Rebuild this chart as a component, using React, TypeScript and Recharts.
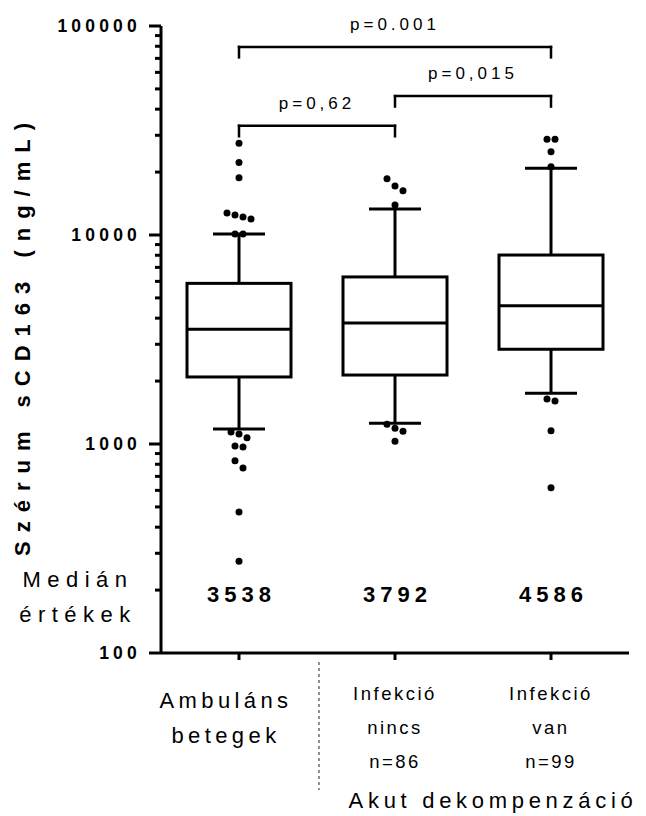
import { ComposedChart, Bar, Scatter, XAxis, YAxis, ReferenceLine } from 'recharts';

// groups on the x axis
const groups = ['Ambuláns betegek', 'Infekció nincs', 'Infekció van'];
const groupLabels = [
  ['Ambuláns', 'betegek'],
  ['Infekció', 'nincs', 'n=86'],
  ['Infekció', 'van', 'n=99'],
];

// box plot statistics, ng/mL
const medians = [3538, 3792, 4586];
const lowerQuartiles = [2093, 2138, 2840];
const upperQuartiles = [5870, 6300, 8020];
const whiskerLows = [1180, 1256, 1748];
const whiskerHighs = [10110, 13310, 20850];

// values outside the whiskers
const outliers = [
  [27500, 22200, 18800, 12740, 12470, 12190, 11930, 10100, 10100, 1140, 1117, 1072, 978, 968, 832, 767, 473, 275],
  [18600, 17150, 16300, 13920, 1242, 1189, 1150, 1030],
  [28700, 28700, 25000, 21200, 1641, 1606, 1158, 618],
];

const comparisons = [
  { from: 0, to: 2, text: 'p=0.001' },
  { from: 1, to: 2, text: 'p=0,015' },
  { from: 0, to: 1, text: 'p=0,62' },
];

const yTicks = [100, 1000, 10000, 100000];

const FONT = '"Liberation Sans", Arial, sans-serif';
const BOX_W = 104;
const CAP_W = 52;
const LINE = 3;
const DOT_R = 3.5;
const DOT_STEP = 8; // px between dots placed side by side
const DOT_GAP = 0.037; // decades; dots closer than this are placed side by side
const BRACKET_LEVELS = [79400, 46200, 33300];
const BRACKET_DROP = 0.05; // decades

const minorTicks = yTicks.slice(0, -1).flatMap((d) => [2, 3, 4, 5, 6, 7, 8, 9].map((m) => m * d));
const allTicks = [...yTicks, ...minorTicks].sort((a, b) => a - b);

// group close values and spread each group sideways around the centre
function spread(values: number[]) {
  const sorted = [...values].sort((a, b) => b - a);
  const clusters: number[][] = [];
  for (const v of sorted) {
    const last = clusters[clusters.length - 1];
    if (last && Math.log10(last[last.length - 1]) - Math.log10(v) < DOT_GAP) last.push(v);
    else clusters.push([v]);
  }
  return clusters.flatMap((c) => c.map((v, i) => ({ value: v, shift: i - (c.length - 1) / 2 })));
}

const chartData = groups.map((name, i) => ({
  name,
  box: [lowerQuartiles[i], upperQuartiles[i]],
  whisker: [whiskerLows[i], whiskerHighs[i]],
}));

const medianPoints = medians.map((m, i) => ({ x: i + 0.5, y: m }));

const outlierPoints = outliers.flatMap((vals, i) =>
  spread(vals).map((p) => ({ x: i + 0.5, y: p.value, shift: p.shift }))
);

const WhiskerShape = (p: any) => {
  const top = Math.min(p.y, p.y + p.height);
  const bottom = Math.max(p.y, p.y + p.height);
  const cx = p.x + p.width / 2;
  return (
    <g stroke="#000" strokeWidth={LINE}>
      <line x1={cx} x2={cx} y1={top} y2={bottom} />
      <line x1={cx - CAP_W / 2} x2={cx + CAP_W / 2} y1={top} y2={top} />
      <line x1={cx - CAP_W / 2} x2={cx + CAP_W / 2} y1={bottom} y2={bottom} />
    </g>
  );
};

const BoxShape = (p: any) => {
  const top = Math.min(p.y, p.y + p.height);
  return (
    <rect x={p.x} y={top} width={p.width} height={Math.abs(p.height)} fill="#fff" stroke="#000" strokeWidth={LINE} />
  );
};

const MedianShape = (p: any) => (
  <line x1={p.cx - BOX_W / 2} x2={p.cx + BOX_W / 2} y1={p.cy} y2={p.cy} stroke="#000" strokeWidth={LINE} />
);

const DotShape = (p: any) => <circle cx={p.cx + p.payload.shift * DOT_STEP} cy={p.cy} r={DOT_R} fill="#000" />;

const YTick = (props: any) => {
  const { x, y, payload } = props;
  const axisX = x + 12;
  const major = yTicks.includes(payload.value);
  return (
    <g>
      <line x1={axisX - (major ? 12 : 6)} x2={axisX} y1={y} y2={y} stroke="#000" strokeWidth={LINE} />
      {major && (
        <text x={x - 8} y={y} dy={6} textAnchor="end" fontFamily={FONT} fontWeight="bold" fontSize={17.5} letterSpacing={4.2} fill="#000">
          {payload.value}
        </text>
      )}
    </g>
  );
};

const GroupTick = (props: any) => {
  const { x, y, payload } = props;
  const i = groups.indexOf(payload.value);
  const lines = groupLabels[i] || [];
  const big = lines.length === 2;
  return (
    <g fontFamily={FONT} fill="#000">
      <text x={x} y={y - 58} dx={2.5} textAnchor="middle" fontWeight="bold" fontSize={22} letterSpacing={5}>
        {medians[i]}
      </text>
      {lines.map((t, k) => (
        <text
          key={k}
          x={x}
          y={y + (big ? 48 : 40) + k * (big ? 35 : 34)}
          dx={big ? -13 : 0}
          textAnchor="middle"
          fontSize={big ? 22 : 18.5}
          letterSpacing={big ? 4.4 : 2.5}
        >
          {t}
        </text>
      ))}
    </g>
  );
};

const PLabel = (props: any) => {
  const vb = props.viewBox || {};
  return (
    <text
      x={vb.x + vb.width / 2}
      y={vb.y - 17}
      textAnchor="middle"
      fontFamily={FONT}
      fontSize={17}
      letterSpacing={4}
      fill="#000"
    >
      {props.text}
    </text>
  );
};

export default function App() {
  return (
    <div style={{ position: 'absolute', left: 0, top: 0, width: 646, height: 816, background: '#fff' }}>
      <ComposedChart
        width={646}
        height={816}
        data={chartData}
        margin={{ top: 26, right: 17, bottom: 0, left: 0 }}
        barSize={BOX_W}
        barGap={-BOX_W}
      >
        <XAxis
          xAxisId="cat"
          dataKey="name"
          type="category"
          height={163}
          stroke="#000"
          axisLine={{ stroke: '#000', strokeWidth: LINE }}
          tickLine={{ stroke: '#000', strokeWidth: LINE }}
          tickSize={7}
          tickMargin={0}
          interval={0}
          tick={<GroupTick />}
        />
        <XAxis xAxisId="pos" dataKey="x" type="number" domain={[0, 3]} hide />
        <YAxis
          type="number"
          scale="log"
          domain={[100, 100000]}
          allowDataOverflow
          ticks={allTicks}
          interval={0}
          width={161}
          tickSize={12}
          tickMargin={0}
          tickLine={false}
          axisLine={{ stroke: '#000', strokeWidth: LINE }}
          tick={<YTick />}
        />
        <Bar xAxisId="cat" dataKey="whisker" shape={<WhiskerShape />} isAnimationActive={false} />
        <Bar xAxisId="cat" dataKey="box" shape={<BoxShape />} isAnimationActive={false} />
        <Scatter xAxisId="pos" data={medianPoints} dataKey="y" shape={<MedianShape />} isAnimationActive={false} />
        <Scatter xAxisId="pos" data={outlierPoints} dataKey="y" shape={<DotShape />} isAnimationActive={false} />
        {comparisons.map((c, k) => {
          const top = BRACKET_LEVELS[k];
          const foot = top / Math.pow(10, BRACKET_DROP);
          const x1 = c.from + 0.5;
          const x2 = c.to + 0.5;
          const style = { stroke: '#000', strokeWidth: 2.5, strokeLinecap: 'square' as const };
          return [
            <ReferenceLine
              key={`h${k}`}
              xAxisId="pos"
              segment={[{ x: x1, y: top }, { x: x2, y: top }]}
              {...style}
              label={<PLabel text={c.text} />}
            />,
            <ReferenceLine key={`a${k}`} xAxisId="pos" segment={[{ x: x1, y: top }, { x: x1, y: foot }]} {...style} />,
            <ReferenceLine key={`b${k}`} xAxisId="pos" segment={[{ x: x2, y: top }, { x: x2, y: foot }]} {...style} />,
          ];
        })}
      </ComposedChart>
      <svg
        width={646}
        height={816}
        style={{ position: 'absolute', left: 0, top: 0, pointerEvents: 'none' }}
        fontFamily={FONT}
        fill="#000"
      >
        <text x={30} y={335} transform="rotate(-90 30 335)" textAnchor="middle" fontWeight="bold" fontSize={22} letterSpacing={9}>
          Szérum sCD163 (ng/mL)
        </text>
        <text x={78} y={587} textAnchor="middle" fontSize={22} letterSpacing={6.5}>
          Medián
        </text>
        <text x={78} y={622} textAnchor="middle" fontSize={22} letterSpacing={6.5}>
          értékek
        </text>
        <line x1={319} x2={319} y1={662} y2={790} stroke="#555" strokeWidth={1.3} strokeDasharray="3 3" />
        <text x={493} y={808} textAnchor="middle" fontSize={22} letterSpacing={4.7}>
          Akut dekompenzáció
        </text>
      </svg>
    </div>
  );
}
